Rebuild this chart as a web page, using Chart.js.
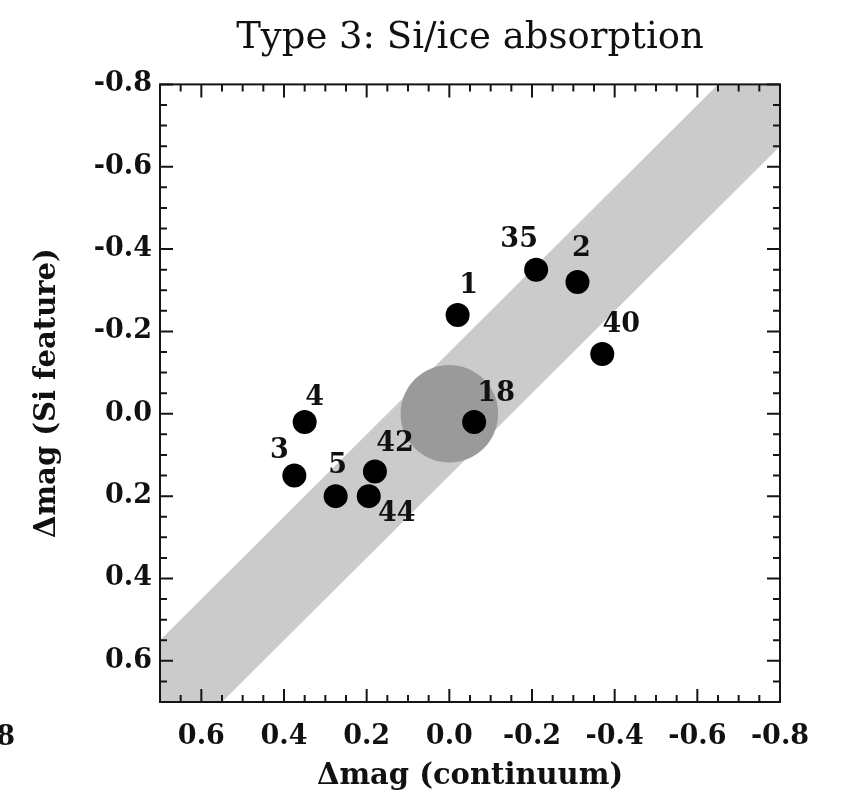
<!DOCTYPE html>
<html lang="en">

<head>
  <meta charset="UTF-8">
  <title> Type 3: Si/ice absorption </title>
  <script src="https://cdn.jsdelivr.net/npm/chart.js"></script>
  <style>
    body { margin: 0; background: #fff; }
    canvas { display: block; }
  </style>
</head>

<body>
  <canvas id="grafico" width="843" height="797"></canvas>

  <script>
    // sources and their magnitude changes
    const nomes = ['1', '2', '3', '4', '5', '18', '35', '40', '42', '44'];
    const dmagContinuo = [-0.02, -0.31, 0.375, 0.35, 0.275, -0.06, -0.21, -0.37, 0.18, 0.195];
    const dmagSilicato = [-0.24, -0.32, 0.15, 0.02, 0.20, 0.02, -0.35, -0.145, 0.14, 0.20];

    // axis ticks
    const ticksX = [0.6, 0.4, 0.2, 0.0, -0.2, -0.4, -0.6, -0.8];
    const ticksY = [-0.8, -0.6, -0.4, -0.2, 0.0, 0.2, 0.4, 0.6];

    // grey band around y = x, and the error circle at the origin
    const meiaLarguraFaixa = 0.15;
    const faixaX = [0.9, -1.0];
    const raioCirculo = 0.118;

    // where each label sits relative to its dot (px)
    const rotuloDx = [11, 4, -15, 10, 2, 22, -17, 19, 20, 28];
    const rotuloDy = [-29, -33, -25, -24, -30, -28, -30, -29, -27, 18];

    const fonteTexto = { family: 'DejaVu Serif', size: 27, weight: 'bold', lineHeight: 1.2 };

    const pontos = nomes.map((n, i) => ({ x: dmagContinuo[i], y: dmagSilicato[i] }));
    const faixaSup = faixaX.map(x => ({ x: x, y: x - meiaLarguraFaixa }));
    const faixaInf = faixaX.map(x => ({ x: x, y: x + meiaLarguraFaixa }));

    const molduraTicks = {
      id: 'molduraTicks',
      afterDatasetsDraw(chart) {
        const { ctx, chartArea: a, scales: { x, y } } = chart;
        ctx.save();
        ctx.strokeStyle = '#151515';
        ctx.lineWidth = 2;
        ctx.strokeRect(a.left, a.top, a.right - a.left, a.bottom - a.top);
        ctx.beginPath();
        for (let k = 0; k <= 30; k++) {
          const v = -0.8 + k * 0.05;
          const L = (k % 4 === 0) ? 13 : 7;
          const px = x.getPixelForValue(v);
          const py = y.getPixelForValue(v);
          ctx.moveTo(px, a.bottom); ctx.lineTo(px, a.bottom - L);
          ctx.moveTo(px, a.top); ctx.lineTo(px, a.top + L);
          ctx.moveTo(a.left, py); ctx.lineTo(a.left + L, py);
          ctx.moveTo(a.right, py); ctx.lineTo(a.right - L, py);
        }
        ctx.stroke();

        // numbers next to the dots
        ctx.fillStyle = '#111';
        ctx.font = `bold ${fonteTexto.size}px ${fonteTexto.family}`;
        ctx.textAlign = 'center';
        ctx.textBaseline = 'middle';
        const meta = chart.getDatasetMeta(0);
        meta.data.forEach((p, i) => {
          ctx.fillText(nomes[i], p.x + rotuloDx[i], p.y + rotuloDy[i]);
        });

        // leftover of the neighbouring panel's axis
        ctx.textAlign = 'right';
        ctx.fillText('-0.8', 15, 738);
        ctx.restore();
      }
    };

    new Chart(document.getElementById('grafico'), {
      type: 'scatter',
      data: {
        datasets: [
          {
            data: pontos,
            pointRadius: 12,
            backgroundColor: '#000',
            borderWidth: 0
          },
          {
            data: [{ x: 0, y: 0 }],
            pointRadius: (c) => {
              const s = c.chart.scales.x;
              return Math.abs(s.getPixelForValue(raioCirculo) - s.getPixelForValue(0));
            },
            backgroundColor: '#9a9a9a',
            borderWidth: 0,
            clip: 0
          },
          {
            data: faixaSup,
            showLine: true,
            pointRadius: 0,
            borderWidth: 0,
            clip: 0
          },
          {
            data: faixaInf,
            showLine: true,
            pointRadius: 0,
            borderWidth: 0,
            backgroundColor: '#cbcbcb',
            fill: '-1',
            clip: 0
          }
        ]
      },
      options: {
        responsive: false,
        animation: false,
        events: [],
        layout: { padding: { top: 0, right: 63, bottom: 0, left: 0 } },
        plugins: {
          legend: { display: false },
          tooltip: { enabled: false },
          title: {
            display: true,
            fullSize: false,
            text: 'Type 3: Si/ice absorption',
            color: '#111',
            font: { family: 'DejaVu Serif', size: 37, weight: 'normal', lineHeight: 1.2 },
            padding: { top: 16, bottom: 24 }
          }
        },
        scales: {
          x: {
            type: 'linear',
            min: -0.8, max: 0.7,
            reverse: true,
            afterBuildTicks: (s) => { s.ticks = ticksX.map(v => ({ value: v })); },
            afterFit: (s) => { s.height = 95; },
            grid: { display: false, drawTicks: false },
            border: { display: false },
            ticks: {
              color: '#111',
              font: fonteTexto,
              padding: 19,
              maxRotation: 0,
              callback: (v) => v.toFixed(1)
            },
            title: {
              display: true,
              text: 'Δmag (continuum)',
              color: '#111',
              font: { family: 'DejaVu Serif', size: 29, weight: 'bold', lineHeight: 1.2 },
              padding: { top: 0, bottom: 3 }
            }
          },
          y: {
            type: 'linear',
            min: -0.8, max: 0.7,
            reverse: true,
            afterBuildTicks: (s) => { s.ticks = ticksY.map(v => ({ value: v })); },
            afterFit: (s) => { s.width = 160; },
            grid: { display: false, drawTicks: false },
            border: { display: false },
            ticks: {
              color: '#111',
              font: fonteTexto,
              padding: 8,
              callback: (v) => v.toFixed(1)
            },
            title: {
              display: true,
              text: 'Δmag (Si feature)',
              color: '#111',
              font: { family: 'DejaVu Serif', size: 29, weight: 'bold', lineHeight: 1.2 },
              padding: { top: 30, bottom: 0 }
            }
          }
        }
      },
      plugins: [molduraTicks]
    });
  </script>
</body>

</html>
